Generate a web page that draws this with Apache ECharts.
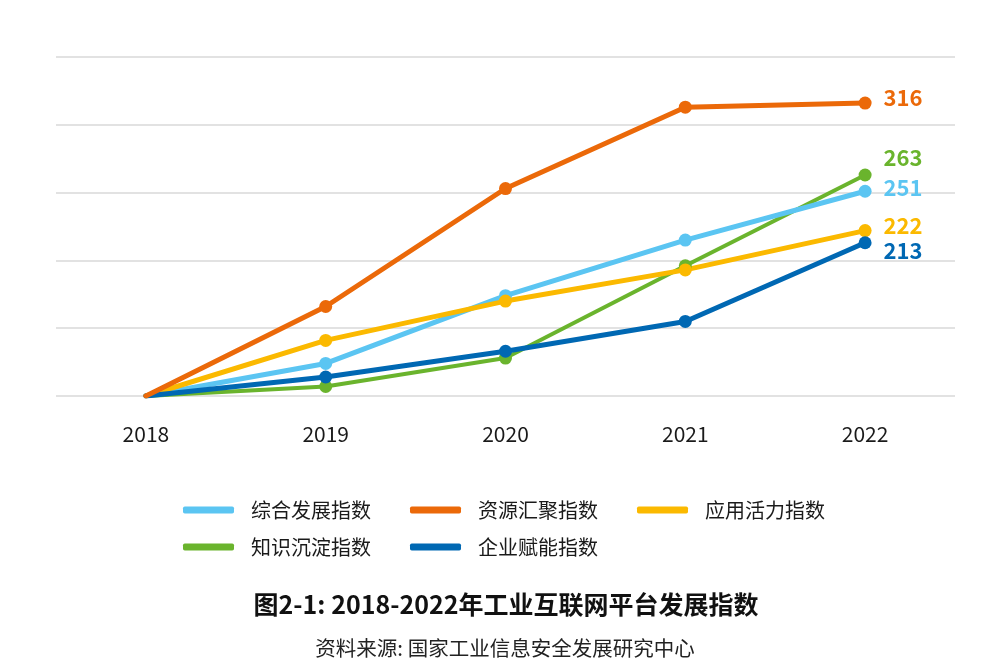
<!DOCTYPE html>
<html>
<head>
<meta charset="utf-8">
<script src="https://cdn.jsdelivr.net/npm/echarts@6/dist/echarts.min.js"></script>
<style>
html,body{margin:0;padding:0;background:#fff;}
#chart{width:998px;height:665px;}
</style>
</head>
<body>
<div id="chart"></div>
<script>
var years = ['2018', '2019', '2020', '2021', '2022'];
var names = ['综合发展指数', '资源汇聚指数', '应用活力指数', '知识沉淀指数', '企业赋能指数'];
var zonghe = [100, 124, 174, 215, 251];
var ziyuan = [100, 166, 253, 313, 316];
var yingyong = [100, 141, 170, 193, 222];
var zhishi = [100, 107, 128, 196, 263];
var qiye = [100, 114, 133, 155, 213];
var titleText = '图2-1: 2018-2022年工业互联网平台发展指数';
var sourceText = '资料来源: 国家工业信息安全发展研究中心';
var colors = {
  '综合发展指数': '#5bc5f2',
  '资源汇聚指数': '#eb6909',
  '应用活力指数': '#fbb900',
  '知识沉淀指数': '#6ab42d',
  '企业赋能指数': '#0068b3'
};
var labelOffsets = {
  '综合发展指数': -4,
  '资源汇聚指数': -5,
  '应用活力指数': -5,
  '知识沉淀指数': -17,
  '企业赋能指数': 8
};
var FONT = '"Noto Sans CJK SC", "Noto Sans", sans-serif';

function mk(name, vals, width) {
  var last = vals.length - 1;
  return {
    name: name,
    type: 'line',
    data: vals.map(function (v, i) {
      if (i === last) {
        return {
          value: v,
          label: {
            show: true,
            position: 'right',
            distance: 12,
            offset: [0, labelOffsets[name]],
            color: colors[name],
            fontSize: 22,
            fontWeight: 'bold',
            fontFamily: FONT
          }
        };
      }
      return v;
    }),
    symbol: 'circle',
    symbolSize: function (v, p) { return p.dataIndex === 0 ? 0 : 13; },
    showSymbol: true,
    color: colors[name],
    itemStyle: { color: colors[name] },
    lineStyle: { color: colors[name], width: width, cap: 'round', join: 'round' },
    label: { show: false },
    emphasis: { disabled: true },
    animation: false
  };
}

var chart = echarts.init(document.getElementById('chart'));
var legendCommon = {
  left: 178,
  orient: 'horizontal',
  itemWidth: 51,
  itemHeight: 7,
  itemGap: 39,
  icon: 'roundRect',
  textStyle: { fontSize: 20, color: '#1a1a1a', fontFamily: FONT, padding: [0, 0, 0, 12] },
  selectedMode: false
};
chart.setOption({
  backgroundColor: '#ffffff',
  animation: false,
  graphic: [
    {
      type: 'text',
      x: 506,
      y: 604,
      style: {
        text: titleText,
        fill: '#111',
        font: 'bold 25px ' + FONT,
        textAlign: 'center',
        textVerticalAlign: 'middle'
      }
    },
    {
      type: 'text',
      x: 505,
      y: 648,
      style: {
        text: sourceText,
        fill: '#222',
        font: '20.5px ' + FONT,
        textAlign: 'center',
        textVerticalAlign: 'middle'
      }
    }
  ],
  legend: [
    Object.assign({}, legendCommon, { top: 495, data: names.slice(0, 3) }),
    Object.assign({}, legendCommon, { top: 532, data: names.slice(3) })
  ],
  grid: { left: 56, right: 43, top: 57, bottom: 269, containLabel: false },
  xAxis: {
    type: 'category',
    data: years,
    boundaryGap: true,
    axisLine: { show: false },
    axisTick: { show: false },
    axisLabel: { fontSize: 21, color: '#1a1a1a', margin: 28, fontFamily: FONT }
  },
  yAxis: {
    type: 'value',
    min: 100,
    max: 350,
    interval: 50,
    axisLabel: { show: false },
    axisLine: { show: false },
    axisTick: { show: false },
    splitLine: { lineStyle: { color: '#d9d9d9', width: 1.5 } }
  },
  series: [
    mk('知识沉淀指数', zhishi, 4),
    mk('综合发展指数', zonghe, 5),
    mk('应用活力指数', yingyong, 5),
    mk('企业赋能指数', qiye, 5),
    mk('资源汇聚指数', ziyuan, 5)
  ]
});
</script>
</body>
</html>
